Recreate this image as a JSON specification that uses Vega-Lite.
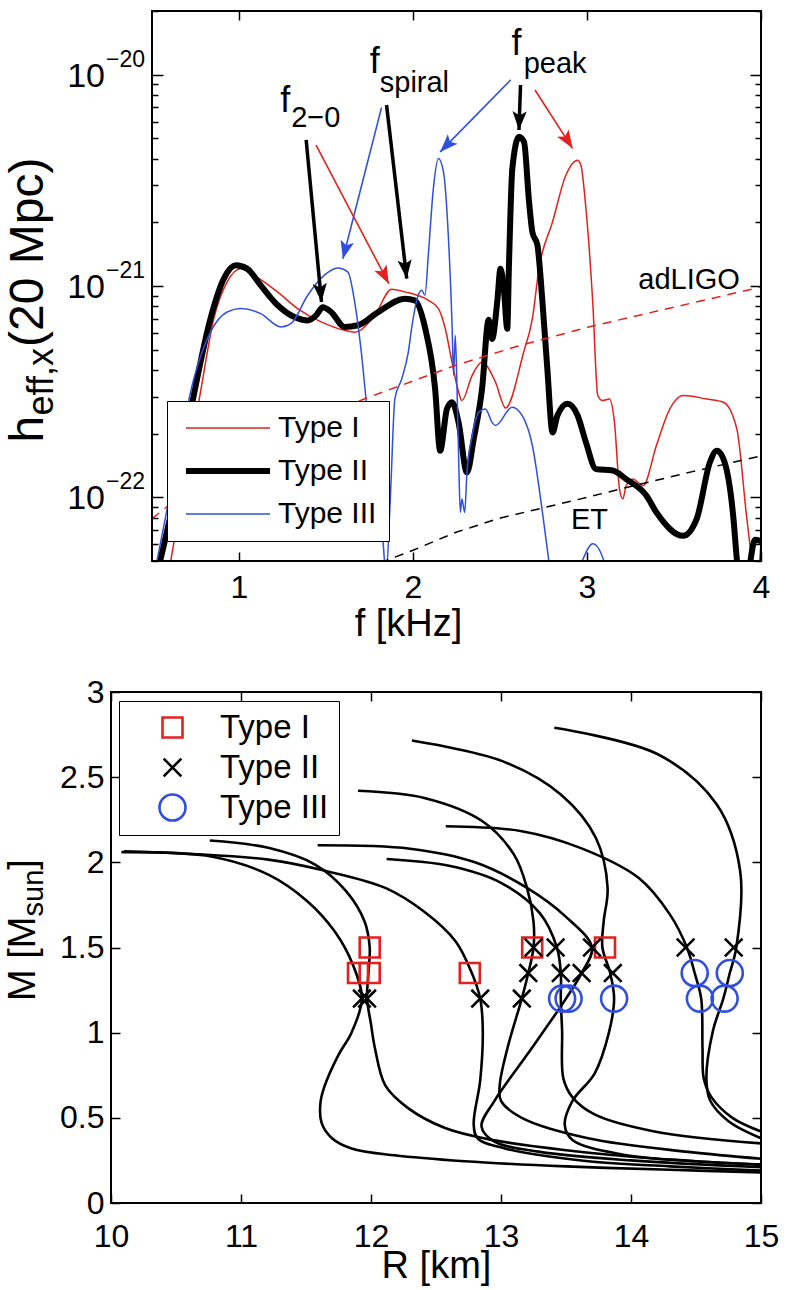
{
  "$schema": "https://vega.github.io/schema/vega-lite/v6.json",
  "background": "white",
  "padding": {"left": 3, "top": 10, "right": 5, "bottom": 5},
  "config": {
    "font": "Liberation Sans",
    "view": {"stroke": "black", "strokeWidth": 2},
    "axis": {"domain": false, "grid": false, "labelFlush": false, "labelFont": "Liberation Sans", "labelFontSize": 32, "labelColor": "black", "titleFont": "Liberation Sans", "titleFontSize": 38, "titleFontWeight": "normal", "titleColor": "black", "tickColor": "black", "tickWidth": 1.5},
    "legend": {"labelFont": "Liberation Sans", "labelColor": "black", "strokeColor": "black", "fillColor": "white", "cornerRadius": 0, "title": null}
  },
  "datasets": {
    "curves": [
      {"type": "Type I", "f": 0.60, "h": 4.6e-23},
      {"type": "Type I", "f": 0.682, "h": 1.135e-22},
      {"type": "Type I", "f": 0.779, "h": 3.16e-22},
      {"type": "Type I", "f": 0.855, "h": 7.0e-22},
      {"type": "Type I", "f": 0.932, "h": 1.047e-21},
      {"type": "Type I", "f": 1.01, "h": 1.208e-21},
      {"type": "Type I", "f": 1.087, "h": 1.122e-21},
      {"type": "Type I", "f": 1.221, "h": 9.38e-22},
      {"type": "Type I", "f": 1.337, "h": 7.82e-22},
      {"type": "Type I", "f": 1.472, "h": 6.76e-22},
      {"type": "Type I", "f": 1.607, "h": 6.17e-22},
      {"type": "Type I", "f": 1.665, "h": 6.05e-22},
      {"type": "Type I", "f": 1.78, "h": 7.26e-22},
      {"type": "Type I", "f": 1.877, "h": 9.66e-22},
      {"type": "Type I", "f": 1.954, "h": 9.38e-22},
      {"type": "Type I", "f": 2.088, "h": 8.55e-22},
      {"type": "Type I", "f": 2.146, "h": 7.82e-22},
      {"type": "Type I", "f": 2.185, "h": 6.31e-22},
      {"type": "Type I", "f": 2.224, "h": 4.37e-22},
      {"type": "Type I", "f": 2.262, "h": 3.15e-22},
      {"type": "Type I", "f": 2.281, "h": 2.87e-22},
      {"type": "Type I", "f": 2.34, "h": 3.78e-22},
      {"type": "Type I", "f": 2.397, "h": 4.37e-22},
      {"type": "Type I", "f": 2.474, "h": 3.51e-22},
      {"type": "Type I", "f": 2.532, "h": 2.65e-22},
      {"type": "Type I", "f": 2.637, "h": 4.9e-22},
      {"type": "Type I", "f": 2.686, "h": 7.0e-22},
      {"type": "Type I", "f": 2.724, "h": 1.208e-21},
      {"type": "Type I", "f": 2.802, "h": 2.01e-21},
      {"type": "Type I", "f": 2.879, "h": 3.35e-21},
      {"type": "Type I", "f": 2.946, "h": 3.94e-21},
      {"type": "Type I", "f": 2.965, "h": 3.73e-21},
      {"type": "Type I", "f": 2.994, "h": 2.32e-21},
      {"type": "Type I", "f": 3.033, "h": 8.39e-22},
      {"type": "Type I", "f": 3.062, "h": 3.03e-22},
      {"type": "Type I", "f": 3.09, "h": 2.87e-22},
      {"type": "Type I", "f": 3.129, "h": 2.92e-22},
      {"type": "Type I", "f": 3.158, "h": 2.26e-22},
      {"type": "Type I", "f": 3.187, "h": 1.09e-22},
      {"type": "Type I", "f": 3.206, "h": 9.82e-23},
      {"type": "Type I", "f": 3.225, "h": 1.135e-22},
      {"type": "Type I", "f": 3.264, "h": 1.22e-22},
      {"type": "Type I", "f": 3.303, "h": 1.16e-22},
      {"type": "Type I", "f": 3.322, "h": 1.135e-22},
      {"type": "Type I", "f": 3.399, "h": 1.76e-22},
      {"type": "Type I", "f": 3.476, "h": 2.62e-22},
      {"type": "Type I", "f": 3.553, "h": 3.03e-22},
      {"type": "Type I", "f": 3.688, "h": 2.92e-22},
      {"type": "Type I", "f": 3.784, "h": 2.82e-22},
      {"type": "Type I", "f": 3.861, "h": 2.11e-22},
      {"type": "Type I", "f": 3.919, "h": 7.89e-23},
      {"type": "Type I", "f": 3.958, "h": 4.47e-23},
      {"type": "Type I", "f": 3.975, "h": 3.9e-23},
      {"type": "Type I", "f": 4.0, "h": 6.1e-23},

      {"type": "Type II", "f": 0.545, "h": 4.92e-23},
      {"type": "Type II", "f": 0.643, "h": 1.135e-22},
      {"type": "Type II", "f": 0.74, "h": 3.04e-22},
      {"type": "Type II", "f": 0.836, "h": 7.0e-22},
      {"type": "Type II", "f": 0.913, "h": 1.084e-21},
      {"type": "Type II", "f": 0.981, "h": 1.253e-21},
      {"type": "Type II", "f": 1.046, "h": 1.208e-21},
      {"type": "Type II", "f": 1.125, "h": 1.007e-21},
      {"type": "Type II", "f": 1.221, "h": 8.13e-22},
      {"type": "Type II", "f": 1.318, "h": 7.13e-22},
      {"type": "Type II", "f": 1.395, "h": 6.87e-22},
      {"type": "Type II", "f": 1.443, "h": 7.26e-22},
      {"type": "Type II", "f": 1.482, "h": 7.94e-22},
      {"type": "Type II", "f": 1.53, "h": 7.53e-22},
      {"type": "Type II", "f": 1.607, "h": 6.40e-22},
      {"type": "Type II", "f": 1.684, "h": 6.52e-22},
      {"type": "Type II", "f": 1.80, "h": 7.53e-22},
      {"type": "Type II", "f": 1.954, "h": 8.71e-22},
      {"type": "Type II", "f": 2.01, "h": 8.55e-22},
      {"type": "Type II", "f": 2.07, "h": 6.31e-22},
      {"type": "Type II", "f": 2.127, "h": 3.27e-22},
      {"type": "Type II", "f": 2.156, "h": 1.66e-22},
      {"type": "Type II", "f": 2.195, "h": 2.62e-22},
      {"type": "Type II", "f": 2.224, "h": 2.82e-22},
      {"type": "Type II", "f": 2.262, "h": 2.26e-22},
      {"type": "Type II", "f": 2.31, "h": 1.31e-22},
      {"type": "Type II", "f": 2.349, "h": 1.89e-22},
      {"type": "Type II", "f": 2.397, "h": 3.27e-22},
      {"type": "Type II", "f": 2.435, "h": 6.92e-22},
      {"type": "Type II", "f": 2.455, "h": 5.62e-22},
      {"type": "Type II", "f": 2.484, "h": 8.39e-22},
      {"type": "Type II", "f": 2.503, "h": 1.208e-21},
      {"type": "Type II", "f": 2.522, "h": 9.70e-22},
      {"type": "Type II", "f": 2.542, "h": 6.28e-22},
      {"type": "Type II", "f": 2.551, "h": 1.208e-21},
      {"type": "Type II", "f": 2.571, "h": 3.60e-21},
      {"type": "Type II", "f": 2.609, "h": 5.08e-21},
      {"type": "Type II", "f": 2.638, "h": 4.81e-21},
      {"type": "Type II", "f": 2.667, "h": 2.50e-21},
      {"type": "Type II", "f": 2.686, "h": 1.80e-21},
      {"type": "Type II", "f": 2.715, "h": 1.56e-21},
      {"type": "Type II", "f": 2.744, "h": 8.39e-22},
      {"type": "Type II", "f": 2.772, "h": 4.06e-22},
      {"type": "Type II", "f": 2.802, "h": 2.03e-22},
      {"type": "Type II", "f": 2.83, "h": 2.44e-22},
      {"type": "Type II", "f": 2.888, "h": 2.77e-22},
      {"type": "Type II", "f": 2.946, "h": 2.44e-22},
      {"type": "Type II", "f": 2.994, "h": 1.82e-22},
      {"type": "Type II", "f": 3.052, "h": 1.36e-22},
      {"type": "Type II", "f": 3.148, "h": 1.34e-22},
      {"type": "Type II", "f": 3.225, "h": 1.22e-22},
      {"type": "Type II", "f": 3.341, "h": 1.02e-22},
      {"type": "Type II", "f": 3.399, "h": 8.49e-23},
      {"type": "Type II", "f": 3.553, "h": 6.58e-23},
      {"type": "Type II", "f": 3.63, "h": 7.89e-23},
      {"type": "Type II", "f": 3.707, "h": 1.47e-22},
      {"type": "Type II", "f": 3.746, "h": 1.66e-22},
      {"type": "Type II", "f": 3.784, "h": 1.52e-22},
      {"type": "Type II", "f": 3.842, "h": 7.89e-23},
      {"type": "Type II", "f": 3.861, "h": 5.1e-23},
      {"type": "Type II", "f": 3.89, "h": 3.2e-23},
      {"type": "Type II", "f": 3.93, "h": 4.5e-23},
      {"type": "Type II", "f": 3.965, "h": 6.3e-23},
      {"type": "Type II", "f": 4.0, "h": 6.2e-23},

      {"type": "Type III", "f": 0.527, "h": 4.92e-23},
      {"type": "Type III", "f": 0.643, "h": 1.52e-22},
      {"type": "Type III", "f": 0.74, "h": 3.63e-22},
      {"type": "Type III", "f": 0.836, "h": 6.05e-22},
      {"type": "Type III", "f": 0.932, "h": 7.53e-22},
      {"type": "Type III", "f": 1.01, "h": 7.82e-22},
      {"type": "Type III", "f": 1.125, "h": 7.40e-22},
      {"type": "Type III", "f": 1.241, "h": 6.40e-22},
      {"type": "Type III", "f": 1.299, "h": 6.64e-22},
      {"type": "Type III", "f": 1.395, "h": 9.04e-22},
      {"type": "Type III", "f": 1.491, "h": 1.125e-21},
      {"type": "Type III", "f": 1.568, "h": 1.216e-21},
      {"type": "Type III", "f": 1.626, "h": 1.164e-21},
      {"type": "Type III", "f": 1.665, "h": 8.39e-22},
      {"type": "Type III", "f": 1.703, "h": 4.86e-22},
      {"type": "Type III", "f": 1.732, "h": 2.82e-22},
      {"type": "Type III", "f": 1.79, "h": 1.12e-22},
      {"type": "Type III", "f": 1.828, "h": 6.12e-23},
      {"type": "Type III", "f": 1.845, "h": 4.3e-23},
      {"type": "Type III", "f": 1.87, "h": 1.0e-22},
      {"type": "Type III", "f": 1.896, "h": 2.93e-22},
      {"type": "Type III", "f": 1.935, "h": 3.63e-22},
      {"type": "Type III", "f": 1.973, "h": 4.86e-22},
      {"type": "Type III", "f": 1.992, "h": 6.31e-22},
      {"type": "Type III", "f": 2.03, "h": 9.04e-22},
      {"type": "Type III", "f": 2.05, "h": 9.55e-22},
      {"type": "Type III", "f": 2.069, "h": 9.04e-22},
      {"type": "Type III", "f": 2.088, "h": 1.40e-21},
      {"type": "Type III", "f": 2.117, "h": 2.89e-21},
      {"type": "Type III", "f": 2.146, "h": 4.01e-21},
      {"type": "Type III", "f": 2.175, "h": 3.47e-21},
      {"type": "Type III", "f": 2.204, "h": 1.67e-21},
      {"type": "Type III", "f": 2.224, "h": 6.75e-22},
      {"type": "Type III", "f": 2.233, "h": 3.78e-22},
      {"type": "Type III", "f": 2.243, "h": 5.83e-22},
      {"type": "Type III", "f": 2.253, "h": 3.27e-22},
      {"type": "Type III", "f": 2.262, "h": 1.58e-22},
      {"type": "Type III", "f": 2.272, "h": 8.49e-23},
      {"type": "Type III", "f": 2.281, "h": 9.82e-23},
      {"type": "Type III", "f": 2.297, "h": 8.49e-23},
      {"type": "Type III", "f": 2.31, "h": 1.31e-22},
      {"type": "Type III", "f": 2.339, "h": 1.93e-22},
      {"type": "Type III", "f": 2.378, "h": 2.53e-22},
      {"type": "Type III", "f": 2.416, "h": 2.62e-22},
      {"type": "Type III", "f": 2.455, "h": 2.26e-22},
      {"type": "Type III", "f": 2.474, "h": 2.19e-22},
      {"type": "Type III", "f": 2.57, "h": 2.67e-22},
      {"type": "Type III", "f": 2.627, "h": 2.44e-22},
      {"type": "Type III", "f": 2.686, "h": 1.76e-22},
      {"type": "Type III", "f": 2.744, "h": 8.49e-23},
      {"type": "Type III", "f": 2.782, "h": 4.92e-23},
      {"type": "Type III", "f": 2.81, "h": 3.16e-23},
      {"type": "Type III", "f": 2.95, "h": 4.6e-23},
      {"type": "Type III", "f": 3.033, "h": 6.03e-23},
      {"type": "Type III", "f": 3.11, "h": 4.6e-23},
      {"type": "Type III", "f": 3.15, "h": 3.16e-23}
    ],
    "adligo": [
      {"f": 0.5, "h": 7.94e-23}, {"f": 1.0, "h": 1.66e-22}, {"f": 1.723, "h": 2.93e-22},
      {"f": 2.243, "h": 4.21e-22}, {"f": 2.6, "h": 5.19e-22}, {"f": 3.01, "h": 6.40e-22},
      {"f": 3.5, "h": 7.94e-22}, {"f": 4.0, "h": 9.89e-22}
    ],
    "et": [
      {"f": 1.81, "h": 4.9e-23}, {"f": 2.0, "h": 5.62e-23}, {"f": 2.243, "h": 6.82e-23},
      {"f": 2.49, "h": 7.94e-23}, {"f": 3.0, "h": 1.0e-22}, {"f": 3.2, "h": 1.10e-22},
      {"f": 3.6, "h": 1.32e-22}, {"f": 4.0, "h": 1.57e-22}
    ],
    "arrows": [
      {"type": "Type II", "f1": 1.386, "h1": 4.91e-21, "f2": 1.474, "h2": 8.4e-22, "ang": 174.7},
      {"type": "Type II", "f1": 1.848, "h1": 7.18e-21, "f2": 1.964, "h2": 1.084e-21, "ang": 173.4},
      {"type": "Type II", "f1": 2.618, "h1": 8.93e-21, "f2": 2.609, "h2": 5.47e-21, "ang": 182},
      {"type": "Type I", "f1": 1.443, "h1": 4.64e-21, "f2": 1.861, "h2": 1.026e-21, "ang": 152.4},
      {"type": "Type I", "f1": 2.701, "h1": 8.46e-21, "f2": 2.917, "h2": 4.48e-21, "ang": 147.5},
      {"type": "Type III", "f1": 1.819, "h1": 6.98e-21, "f2": 1.597, "h2": 1.345e-21, "ang": 194.1},
      {"type": "Type III", "f1": 2.561, "h1": 9.44e-21, "f2": 2.156, "h2": 4.31e-21, "ang": 224.2}
    ],
    "fmain": [
      {"txt": "f", "f": 1.266, "h": 6.68e-21},
      {"txt": "f", "f": 1.78, "h": 1.014e-20},
      {"txt": "f", "f": 2.595, "h": 1.239e-20}
    ],
    "fsub": [
      {"txt": "2−0", "f": 1.300, "h": 5.68e-21},
      {"txt": "spiral", "f": 1.809, "h": 8.25e-21},
      {"txt": "peak", "f": 2.636, "h": 1.014e-20},
      {"txt": "adLIGO", "f": 3.295, "h": 9.72e-22},
      {"txt": "ET", "f": 2.908, "h": 7.08e-23}
    ],
    "ylab": [
      {"base": "10", "exp": "−22", "f": 0.2299, "h": 1e-22},
      {"base": "10", "exp": "−21", "f": 0.2299, "h": 1e-21},
      {"base": "10", "exp": "−20", "f": 0.2299, "h": 1e-20}
    ],
    "ytitleMain": [
      {"txt": "h", "f": -0.126, "h": 1.82e-22},
      {"txt": "(20 Mpc)", "f": -0.126, "h": 5.15e-22}
    ],
    "ytitleSub": [
      {"txt": "eff,x", "f": -0.069, "h": 2.44e-22}
    ],
    "eos": [
      {"eos": "a", "i": 1, "R": 10.08, "M": 2.06}, {"eos": "a", "i": 2, "R": 10.76, "M": 2.036}, {"eos": "a", "i": 3, "R": 11.21, "M": 1.928}, {"eos": "a", "i": 4, "R": 11.51, "M": 1.772}, {"eos": "a", "i": 5, "R": 11.72, "M": 1.595}, {"eos": "a", "i": 6, "R": 11.86, "M": 1.40}, {"eos": "a", "i": 7, "R": 11.93, "M": 1.2}, {"eos": "a", "i": 8, "R": 11.85, "M": 1.0}, {"eos": "a", "i": 9, "R": 11.75, "M": 0.87}, {"eos": "a", "i": 10, "R": 11.64, "M": 0.68}, {"eos": "a", "i": 11, "R": 11.61, "M": 0.58}, {"eos": "a", "i": 12, "R": 11.62, "M": 0.47}, {"eos": "a", "i": 13, "R": 11.7, "M": 0.38}, {"eos": "a", "i": 14, "R": 11.85, "M": 0.32}, {"eos": "a", "i": 15, "R": 12.18, "M": 0.28}, {"eos": "a", "i": 16, "R": 12.72, "M": 0.245}, {"eos": "a", "i": 17, "R": 13.5, "M": 0.215}, {"eos": "a", "i": 18, "R": 14.3, "M": 0.195}, {"eos": "a", "i": 19, "R": 15.0, "M": 0.18},
      {"eos": "b", "i": 1, "R": 10.76, "M": 2.128}, {"eos": "b", "i": 2, "R": 11.21, "M": 2.085}, {"eos": "b", "i": 3, "R": 11.57, "M": 1.987}, {"eos": "b", "i": 4, "R": 11.81, "M": 1.83}, {"eos": "b", "i": 5, "R": 11.95, "M": 1.654}, {"eos": "b", "i": 6, "R": 11.99, "M": 1.5}, {"eos": "b", "i": 7, "R": 11.98, "M": 1.35}, {"eos": "b", "i": 8, "R": 11.97, "M": 1.2}, {"eos": "b", "i": 9, "R": 12.0, "M": 1.05}, {"eos": "b", "i": 10, "R": 12.03, "M": 0.91}, {"eos": "b", "i": 11, "R": 12.11, "M": 0.69}, {"eos": "b", "i": 12, "R": 12.28, "M": 0.56}, {"eos": "b", "i": 13, "R": 12.57, "M": 0.44}, {"eos": "b", "i": 14, "R": 12.9, "M": 0.375}, {"eos": "b", "i": 15, "R": 13.5, "M": 0.31}, {"eos": "b", "i": 16, "R": 14.2, "M": 0.26}, {"eos": "b", "i": 17, "R": 15.0, "M": 0.225},
      {"eos": "c", "i": 1, "R": 10.1, "M": 2.065}, {"eos": "c", "i": 2, "R": 11.21, "M": 2.016}, {"eos": "c", "i": 3, "R": 11.66, "M": 1.948}, {"eos": "c", "i": 4, "R": 12.11, "M": 1.85}, {"eos": "c", "i": 5, "R": 12.41, "M": 1.71}, {"eos": "c", "i": 6, "R": 12.65, "M": 1.537}, {"eos": "c", "i": 7, "R": 12.77, "M": 1.36}, {"eos": "c", "i": 8, "R": 12.84, "M": 1.2}, {"eos": "c", "i": 9, "R": 12.86, "M": 1.01}, {"eos": "c", "i": 10, "R": 12.84, "M": 0.72}, {"eos": "c", "i": 11, "R": 12.79, "M": 0.46}, {"eos": "c", "i": 12, "R": 12.82, "M": 0.38}, {"eos": "c", "i": 13, "R": 13.03, "M": 0.32}, {"eos": "c", "i": 14, "R": 13.67, "M": 0.245}, {"eos": "c", "i": 15, "R": 14.3, "M": 0.215}, {"eos": "c", "i": 16, "R": 15.0, "M": 0.19},
      {"eos": "d", "i": 1, "R": 11.9, "M": 2.42}, {"eos": "d", "i": 2, "R": 12.41, "M": 2.378}, {"eos": "d", "i": 3, "R": 12.86, "M": 2.24}, {"eos": "d", "i": 4, "R": 13.10, "M": 2.045}, {"eos": "d", "i": 5, "R": 13.20, "M": 1.85}, {"eos": "d", "i": 6, "R": 13.25, "M": 1.654}, {"eos": "d", "i": 7, "R": 13.25, "M": 1.5}, {"eos": "d", "i": 8, "R": 13.21, "M": 1.35}, {"eos": "d", "i": 9, "R": 13.16, "M": 1.2}, {"eos": "d", "i": 10, "R": 13.05, "M": 0.91}, {"eos": "d", "i": 11, "R": 12.99, "M": 0.69}, {"eos": "d", "i": 12, "R": 13.0, "M": 0.6}, {"eos": "d", "i": 13, "R": 13.16, "M": 0.5}, {"eos": "d", "i": 14, "R": 13.67, "M": 0.38}, {"eos": "d", "i": 15, "R": 14.44, "M": 0.3}, {"eos": "d", "i": 16, "R": 15.0, "M": 0.26},
      {"eos": "e", "i": 1, "R": 12.12, "M": 2.02}, {"eos": "e", "i": 2, "R": 12.6, "M": 1.98}, {"eos": "e", "i": 3, "R": 13.0, "M": 1.88}, {"eos": "e", "i": 4, "R": 13.3, "M": 1.7}, {"eos": "e", "i": 5, "R": 13.43, "M": 1.5}, {"eos": "e", "i": 6, "R": 13.46, "M": 1.35}, {"eos": "e", "i": 7, "R": 13.46, "M": 1.2}, {"eos": "e", "i": 8, "R": 13.47, "M": 1.01}, {"eos": "e", "i": 9, "R": 13.48, "M": 0.73}, {"eos": "e", "i": 10, "R": 13.55, "M": 0.62}, {"eos": "e", "i": 11, "R": 13.72, "M": 0.52}, {"eos": "e", "i": 12, "R": 14.18, "M": 0.42}, {"eos": "e", "i": 13, "R": 15.0, "M": 0.35},
      {"eos": "f", "i": 1, "R": 11.59, "M": 2.10}, {"eos": "f", "i": 2, "R": 12.3, "M": 2.08}, {"eos": "f", "i": 3, "R": 12.8, "M": 2.0}, {"eos": "f", "i": 4, "R": 13.2, "M": 1.85}, {"eos": "f", "i": 5, "R": 13.5, "M": 1.68}, {"eos": "f", "i": 6, "R": 13.70, "M": 1.5}, {"eos": "f", "i": 7, "R": 13.62, "M": 1.35}, {"eos": "f", "i": 8, "R": 13.5, "M": 1.2}, {"eos": "f", "i": 9, "R": 13.2, "M": 0.87}, {"eos": "f", "i": 10, "R": 12.95, "M": 0.6}, {"eos": "f", "i": 11, "R": 12.85, "M": 0.45}, {"eos": "f", "i": 12, "R": 12.95, "M": 0.36}, {"eos": "f", "i": 13, "R": 13.3, "M": 0.3}, {"eos": "f", "i": 14, "R": 14.0, "M": 0.25}, {"eos": "f", "i": 15, "R": 15.0, "M": 0.21},
      {"eos": "g", "i": 1, "R": 12.315, "M": 2.715}, {"eos": "g", "i": 2, "R": 13.01, "M": 2.594}, {"eos": "g", "i": 3, "R": 13.46, "M": 2.398}, {"eos": "g", "i": 4, "R": 13.73, "M": 2.143}, {"eos": "g", "i": 5, "R": 13.82, "M": 1.85}, {"eos": "g", "i": 6, "R": 13.79, "M": 1.654}, {"eos": "g", "i": 7, "R": 13.78, "M": 1.5}, {"eos": "g", "i": 8, "R": 13.84, "M": 1.35}, {"eos": "g", "i": 9, "R": 13.87, "M": 1.2}, {"eos": "g", "i": 10, "R": 13.83, "M": 1.0}, {"eos": "g", "i": 11, "R": 13.72, "M": 0.76}, {"eos": "g", "i": 12, "R": 13.55, "M": 0.6}, {"eos": "g", "i": 13, "R": 13.49, "M": 0.46}, {"eos": "g", "i": 14, "R": 13.55, "M": 0.37}, {"eos": "g", "i": 15, "R": 13.93, "M": 0.285}, {"eos": "g", "i": 16, "R": 14.5, "M": 0.245}, {"eos": "g", "i": 17, "R": 15.0, "M": 0.225},
      {"eos": "h", "i": 1, "R": 12.575, "M": 2.212}, {"eos": "h", "i": 2, "R": 13.16, "M": 2.183}, {"eos": "h", "i": 3, "R": 13.61, "M": 2.085}, {"eos": "h", "i": 4, "R": 14.06, "M": 1.908}, {"eos": "h", "i": 5, "R": 14.30, "M": 1.693}, {"eos": "h", "i": 6, "R": 14.43, "M": 1.5}, {"eos": "h", "i": 7, "R": 14.49, "M": 1.35}, {"eos": "h", "i": 8, "R": 14.54, "M": 1.2}, {"eos": "h", "i": 9, "R": 14.55, "M": 0.91}, {"eos": "h", "i": 10, "R": 14.56, "M": 0.73}, {"eos": "h", "i": 11, "R": 14.62, "M": 0.62}, {"eos": "h", "i": 12, "R": 14.78, "M": 0.5}, {"eos": "h", "i": 13, "R": 15.0, "M": 0.42},
      {"eos": "i", "i": 1, "R": 13.41, "M": 2.79}, {"eos": "i", "i": 2, "R": 14.21, "M": 2.633}, {"eos": "i", "i": 3, "R": 14.66, "M": 2.339}, {"eos": "i", "i": 4, "R": 14.84, "M": 1.948}, {"eos": "i", "i": 5, "R": 14.81, "M": 1.5}, {"eos": "i", "i": 6, "R": 14.76, "M": 1.35}, {"eos": "i", "i": 7, "R": 14.71, "M": 1.2}, {"eos": "i", "i": 8, "R": 14.63, "M": 1.01}, {"eos": "i", "i": 9, "R": 14.58, "M": 0.73}, {"eos": "i", "i": 10, "R": 14.61, "M": 0.6}, {"eos": "i", "i": 11, "R": 14.75, "M": 0.48}, {"eos": "i", "i": 12, "R": 15.0, "M": 0.38}
    ],
    "markers": [
      {"type": "Type I", "R": 11.99, "M": 1.5}, {"type": "Type I", "R": 11.90, "M": 1.35}, {"type": "Type I", "R": 11.99, "M": 1.35}, {"type": "Type I", "R": 12.76, "M": 1.35}, {"type": "Type I", "R": 13.24, "M": 1.5}, {"type": "Type I", "R": 13.80, "M": 1.5},
      {"type": "Type II", "R": 11.93, "M": 1.2}, {"type": "Type II", "R": 11.97, "M": 1.2}, {"type": "Type II", "R": 12.84, "M": 1.2}, {"type": "Type II", "R": 13.16, "M": 1.2}, {"type": "Type II", "R": 13.21, "M": 1.35}, {"type": "Type II", "R": 13.25, "M": 1.5}, {"type": "Type II", "R": 13.42, "M": 1.5}, {"type": "Type II", "R": 13.46, "M": 1.35}, {"type": "Type II", "R": 13.62, "M": 1.35}, {"type": "Type II", "R": 13.70, "M": 1.5}, {"type": "Type II", "R": 13.86, "M": 1.35}, {"type": "Type II", "R": 14.42, "M": 1.5}, {"type": "Type II", "R": 14.79, "M": 1.5},
      {"type": "Type III", "R": 13.47, "M": 1.2}, {"type": "Type III", "R": 13.52, "M": 1.2}, {"type": "Type III", "R": 13.87, "M": 1.2}, {"type": "Type III", "R": 14.49, "M": 1.35}, {"type": "Type III", "R": 14.76, "M": 1.35}, {"type": "Type III", "R": 14.53, "M": 1.2}, {"type": "Type III", "R": 14.72, "M": 1.2}
    ],
    "mtitleMain": [
      {"txt": "M [M", "R": 9.415, "M": 1.186},
      {"txt": "]", "R": 9.415, "M": 1.957}
    ],
    "mtitleSub": [
      {"txt": "sun", "R": 9.477, "M": 1.682}
    ]
  },
  "columns": 1,
  "spacing": 32,
  "resolve": {"scale": {"x": "independent", "y": "independent", "color": "independent", "shape": "independent", "strokeWidth": "independent"}, "legend": {"color": "independent", "shape": "independent", "strokeWidth": "independent"}},
  "concat": [
    {
      "width": 650,
      "height": 550,
      "view": {"stroke": null},
      "layer": [
        {
          "data": {"name": "curves"},
          "mark": {"type": "line", "clip": true, "interpolate": "monotone"},
          "encoding": {
            "x": {"field": "f", "type": "quantitative", "scale": {"domain": [0.2644, 4], "nice": false, "zero": false},
                  "axis": {"orient": "bottom", "values": [1, 2, 3, 4], "title": "f [kHz]", "titleX": 297, "tickSize": -9, "labelPadding": 20, "titlePadding": 2}},
            "y": {"field": "h", "type": "quantitative", "scale": {"type": "log", "domain": [5e-23, 2e-20], "nice": false},
                  "axis": {"orient": "left", "offset": -41, "title": null, "labels": false, "values": [5e-23, 6e-23, 7e-23, 8e-23, 9e-23, 1e-22, 2e-22, 3e-22, 4e-22, 5e-22, 6e-22, 7e-22, 8e-22, 9e-22, 1e-21, 2e-21, 3e-21, 4e-21, 5e-21, 6e-21, 7e-21, 8e-21, 9e-21, 1e-20, 2e-20],
                           "tickSize": {"condition": {"test": "abs(log(datum.value)/LN10 - round(log(datum.value)/LN10)) < 0.001", "value": -11}, "value": -6}}},
            "color": {"field": "type", "type": "nominal", "scale": {"type": "ordinal", "domain": ["Type I", "Type II", "Type III"], "range": ["#e3211c", "#000000", "#2f4fdc"]},
                      "legend": {"orient": "none", "legendX": 56, "legendY": 390, "labelFontSize": 30, "symbolType": "stroke", "symbolSize": 7056, "clipHeight": 30, "padding": 12, "rowPadding": 13, "labelOffset": 5, "symbolOffset": 4}},
            "strokeWidth": {"field": "type", "type": "nominal", "scale": {"type": "ordinal", "domain": ["Type I", "Type II", "Type III"], "range": [1.5, 6, 1.5]},
                      "legend": {"orient": "none", "legendX": 56, "legendY": 390, "labelFontSize": 30, "symbolType": "stroke", "symbolSize": 7056, "clipHeight": 30, "padding": 12, "rowPadding": 13, "labelOffset": 5, "symbolOffset": 4}}
          }
        },
        {
          "data": {"name": "adligo"},
          "mark": {"type": "line", "clip": true, "color": "#e3211c", "strokeWidth": 1.5, "strokeDash": [9, 7]},
          "encoding": {
            "x": {"field": "f", "type": "quantitative", "axis": {"orient": "top", "values": [1, 2, 3, 4], "labels": false, "title": null, "tickSize": -9}},
            "y": {"field": "h", "type": "quantitative", "axis": {"orient": "right", "title": null, "labels": false, "values": [5e-23, 6e-23, 7e-23, 8e-23, 9e-23, 1e-22, 2e-22, 3e-22, 4e-22, 5e-22, 6e-22, 7e-22, 8e-22, 9e-22, 1e-21, 2e-21, 3e-21, 4e-21, 5e-21, 6e-21, 7e-21, 8e-21, 9e-21, 1e-20, 2e-20],
                  "tickSize": {"condition": {"test": "abs(log(datum.value)/LN10 - round(log(datum.value)/LN10)) < 0.001", "value": -11}, "value": -6}}}
          }
        },
        {
          "data": {"name": "et"},
          "mark": {"type": "line", "clip": true, "color": "black", "strokeWidth": 1.5, "strokeDash": [9, 7]},
          "encoding": {
            "x": {"field": "f", "type": "quantitative", "axis": null},
            "y": {"field": "h", "type": "quantitative", "axis": null}
          }
        },
        {
          "data": {"values": [{}]},
          "mark": {"type": "rect", "fillOpacity": 0, "stroke": "black", "strokeWidth": 2},
          "encoding": {
            "x": {"datum": 0.5, "type": "quantitative", "axis": null}, "x2": {"datum": 4},
            "y": {"datum": 5e-23, "type": "quantitative", "axis": null}, "y2": {"datum": 2e-20}
          }
        },
        {
          "data": {"name": "arrows"},
          "transform": [{"filter": "datum.type == 'Type II'"}],
          "mark": {"type": "rule", "color": "black", "strokeWidth": 3.5},
          "encoding": {
            "x": {"field": "f1", "type": "quantitative", "axis": null}, "y": {"field": "h1", "type": "quantitative", "axis": null},
            "x2": {"field": "f2"}, "y2": {"field": "h2"}
          }
        },
        {
          "data": {"name": "arrows"},
          "transform": [{"filter": "datum.type == 'Type I'"}],
          "mark": {"type": "rule", "color": "#e3211c", "strokeWidth": 1.6},
          "encoding": {
            "x": {"field": "f1", "type": "quantitative", "axis": null}, "y": {"field": "h1", "type": "quantitative", "axis": null},
            "x2": {"field": "f2"}, "y2": {"field": "h2"}
          }
        },
        {
          "data": {"name": "arrows"},
          "transform": [{"filter": "datum.type == 'Type III'"}],
          "mark": {"type": "rule", "color": "#2f4fdc", "strokeWidth": 1.6},
          "encoding": {
            "x": {"field": "f1", "type": "quantitative", "axis": null}, "y": {"field": "h1", "type": "quantitative", "axis": null},
            "x2": {"field": "f2"}, "y2": {"field": "h2"}
          }
        },
        {
          "data": {"name": "arrows"},
          "transform": [{"filter": "datum.type == 'Type II'"}],
          "mark": {"type": "point", "shape": "M0,0L0.38,1L0,0.78L-0.38,1Z", "filled": true, "color": "black", "size": 1400, "opacity": 1},
          "encoding": {
            "x": {"field": "f2", "type": "quantitative", "axis": null}, "y": {"field": "h2", "type": "quantitative", "axis": null},
            "angle": {"field": "ang", "type": "quantitative", "scale": null}
          }
        },
        {
          "data": {"name": "arrows"},
          "transform": [{"filter": "datum.type == 'Type I'"}],
          "mark": {"type": "point", "shape": "M0,0L0.38,1L0,0.78L-0.38,1Z", "filled": true, "color": "#e3211c", "size": 1300, "opacity": 1},
          "encoding": {
            "x": {"field": "f2", "type": "quantitative", "axis": null}, "y": {"field": "h2", "type": "quantitative", "axis": null},
            "angle": {"field": "ang", "type": "quantitative", "scale": null}
          }
        },
        {
          "data": {"name": "arrows"},
          "transform": [{"filter": "datum.type == 'Type III'"}],
          "mark": {"type": "point", "shape": "M0,0L0.38,1L0,0.78L-0.38,1Z", "filled": true, "color": "#2f4fdc", "size": 1300, "opacity": 1},
          "encoding": {
            "x": {"field": "f2", "type": "quantitative", "axis": null}, "y": {"field": "h2", "type": "quantitative", "axis": null},
            "angle": {"field": "ang", "type": "quantitative", "scale": null}
          }
        },
        {
          "data": {"name": "fmain"},
          "mark": {"type": "text", "fontSize": 36, "align": "center", "baseline": "alphabetic", "color": "black"},
          "encoding": {
            "x": {"field": "f", "type": "quantitative", "axis": null}, "y": {"field": "h", "type": "quantitative", "axis": null},
            "text": {"field": "txt"}
          }
        },
        {
          "data": {"name": "fsub"},
          "mark": {"type": "text", "fontSize": 29, "align": "left", "baseline": "alphabetic", "color": "black"},
          "encoding": {
            "x": {"field": "f", "type": "quantitative", "axis": null}, "y": {"field": "h", "type": "quantitative", "axis": null},
            "text": {"field": "txt"}
          }
        },
        {
          "data": {"name": "ylab"},
          "mark": {"type": "text", "fontSize": 34, "align": "right", "baseline": "alphabetic", "dy": 12, "color": "black"},
          "encoding": {
            "x": {"field": "f", "type": "quantitative", "axis": null}, "y": {"field": "h", "type": "quantitative", "axis": null},
            "text": {"field": "base"}
          }
        },
        {
          "data": {"name": "ylab"},
          "mark": {"type": "text", "fontSize": 23, "align": "left", "baseline": "alphabetic", "dy": -8, "dx": 1, "color": "black"},
          "encoding": {
            "x": {"field": "f", "type": "quantitative", "axis": null}, "y": {"field": "h", "type": "quantitative", "axis": null},
            "text": {"field": "exp"}
          }
        },
        {
          "data": {"name": "ytitleMain"},
          "mark": {"type": "text", "fontSize": 48, "align": "left", "baseline": "alphabetic", "angle": 270, "color": "black"},
          "encoding": {
            "x": {"field": "f", "type": "quantitative", "axis": null}, "y": {"field": "h", "type": "quantitative", "axis": null},
            "text": {"field": "txt"}
          }
        },
        {
          "data": {"name": "ytitleSub"},
          "mark": {"type": "text", "fontSize": 36, "align": "left", "baseline": "alphabetic", "angle": 270, "color": "black"},
          "encoding": {
            "x": {"field": "f", "type": "quantitative", "axis": null}, "y": {"field": "h", "type": "quantitative", "axis": null},
            "text": {"field": "txt"}
          }
        }
      ]
    },
    {
      "width": 650,
      "height": 511,
      "layer": [
        {
          "data": {"name": "eos"},
          "mark": {"type": "line", "clip": true, "interpolate": "catmull-rom", "color": "black", "strokeWidth": 2.6},
          "encoding": {
            "x": {"field": "R", "type": "quantitative", "scale": {"domain": [10, 15], "nice": false, "zero": false},
                  "axis": {"orient": "bottom", "values": [10, 11, 12, 13, 14, 15], "title": "R [km]", "tickSize": -9, "labelPadding": 27, "titlePadding": -5}},
            "y": {"field": "M", "type": "quantitative", "scale": {"domain": [0, 3], "nice": false, "zero": false},
                  "axis": {"orient": "left", "values": [0, 0.5, 1, 1.5, 2, 2.5, 3], "format": "~g", "title": null, "tickSize": -9, "labelPadding": 16}},
            "detail": {"field": "eos"},
            "order": {"field": "i", "type": "quantitative"}
          }
        },
        {
          "data": {"name": "markers"},
          "mark": {"type": "point", "filled": false, "size": 7056, "strokeWidth": 2.6, "opacity": 1},
          "encoding": {
            "x": {"field": "R", "type": "quantitative", "axis": {"orient": "top", "values": [10, 11, 12, 13, 14, 15], "labels": false, "title": null, "tickSize": -9}},
            "y": {"field": "M", "type": "quantitative", "axis": {"orient": "right", "values": [0, 0.5, 1, 1.5, 2, 2.5, 3], "labels": false, "title": null, "tickSize": -9}},
            "color": {"field": "type", "type": "nominal", "scale": {"domain": ["Type I", "Type II", "Type III"], "range": ["#e3211c", "#000000", "#2f4fdc"]},
                      "legend": {"orient": "none", "legendX": 8, "legendY": 9, "labelFontSize": 33, "symbolSize": 7056, "clipHeight": 33, "symbolStrokeWidth": 2.6, "padding": 10, "rowPadding": 6, "labelOffset": 4}},
            "shape": {"field": "type", "type": "nominal", "scale": {"domain": ["Type I", "Type II", "Type III"], "range": ["M-0.238,-0.238L0.238,-0.238L0.238,0.238L-0.238,0.238Z", "M-0.21,-0.21L0.21,0.21M-0.21,0.21L0.21,-0.21", "M0.31,0A0.31,0.31 0 1,1 -0.31,0A0.31,0.31 0 1,1 0.31,0Z"]},
                      "legend": {"orient": "none", "legendX": 8, "legendY": 9, "labelFontSize": 33, "symbolSize": 7056, "clipHeight": 33, "symbolStrokeWidth": 2.6, "padding": 10, "rowPadding": 6, "labelOffset": 4}}
          }
        },
        {
          "data": {"name": "mtitleMain"},
          "mark": {"type": "text", "fontSize": 38, "align": "left", "baseline": "alphabetic", "angle": 270, "color": "black"},
          "encoding": {
            "x": {"field": "R", "type": "quantitative", "axis": null}, "y": {"field": "M", "type": "quantitative", "axis": null},
            "text": {"field": "txt"}
          }
        },
        {
          "data": {"name": "mtitleSub"},
          "mark": {"type": "text", "fontSize": 29, "align": "left", "baseline": "alphabetic", "angle": 270, "color": "black"},
          "encoding": {
            "x": {"field": "R", "type": "quantitative", "axis": null}, "y": {"field": "M", "type": "quantitative", "axis": null},
            "text": {"field": "txt"}
          }
        }
      ]
    }
  ]
}
